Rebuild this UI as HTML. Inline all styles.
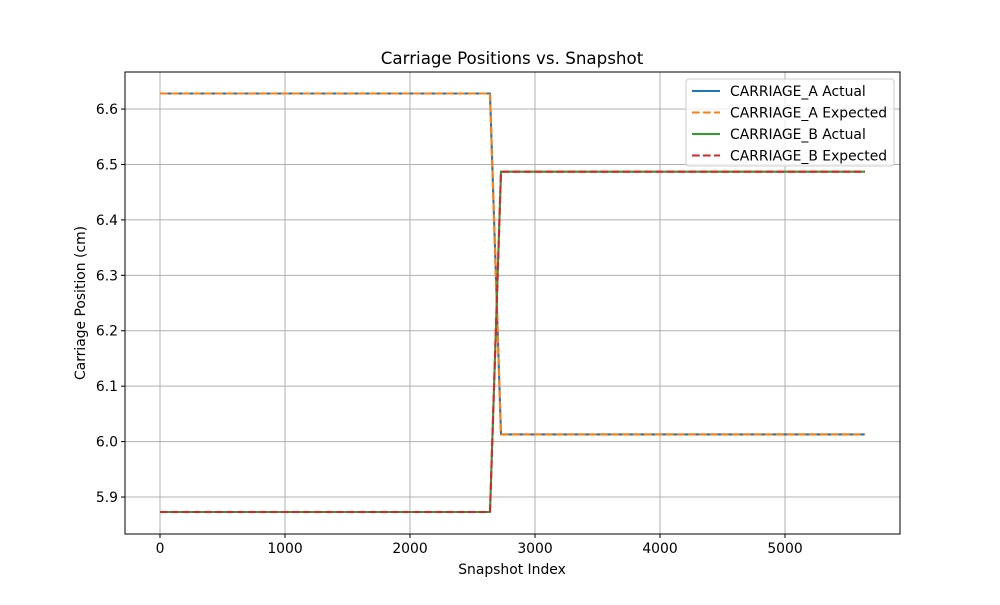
<!DOCTYPE html>
<html><head><meta charset="utf-8"><style>
body{margin:0;background:#fff;}
svg{font-family:"DejaVu Sans","Liberation Sans",sans-serif;}
</style></head><body>
<svg id="chart" width="1000" height="600">
<rect width="1000" height="600" fill="#fff"/>
<g id="grid"></g>
<g id="series"></g>
<rect x="125" y="72" width="775" height="462" fill="none" stroke="#000" stroke-width="1"/>
<g id="ticks" font-size="13.9"></g>
<text x="512" y="64" text-anchor="middle" font-size="16.7">Carriage Positions vs. Snapshot</text>
<text x="512" y="574" text-anchor="middle" font-size="13.9">Snapshot Index</text>
<text transform="translate(85,303) rotate(-90)" text-anchor="middle" font-size="13.9">Carriage Position (cm)</text>
<g id="legend" font-size="13.9"></g>
</svg>
<script>
const xIdx = [0, 2640, 2728, 5640];
const seriesA = [6.628, 6.628, 6.013, 6.013];
const seriesB = [5.873, 5.873, 6.487, 6.487];
const xTicks = [0, 1000, 2000, 3000, 4000, 5000];
const yTicks = [5.9, 6.0, 6.1, 6.2, 6.3, 6.4, 6.5, 6.6];
const seriesNames = ["CARRIAGE_A Actual", "CARRIAGE_A Expected", "CARRIAGE_B Actual", "CARRIAGE_B Expected"];
const NS = "http://www.w3.org/2000/svg";
const L=125,R=900,T=72,B=534, x0=-280,x1=5920,y0=5.8333,y1=6.6668;
const sx=v=>L+(v-x0)/(x1-x0)*(R-L);
const sy=v=>B-(v-y0)/(y1-y0)*(B-T);
function mk(tag,attrs,parent){const e=document.createElementNS(NS,tag);for(const k in attrs)e.setAttribute(k,attrs[k]);parent.appendChild(e);return e;}
const grid=document.getElementById('grid'),ticks=document.getElementById('ticks'),ser=document.getElementById('series'),leg=document.getElementById('legend');
xTicks.forEach(v=>{const x=sx(v);
 const g=mk('line',{x1:x,x2:x,y1:T,y2:B,stroke:'#b0b0b0','stroke-width':1},grid);
 
 
 mk('line',{x1:x,x2:x,y1:B,y2:B+4,stroke:'#000'},ticks);
 const t=mk('text',{x:x,y:B+19,'text-anchor':'middle'},ticks);t.textContent=v;
 
 
});
yTicks.forEach(v=>{const y=sy(v);
 const g=mk('line',{x1:L,x2:R,y1:y,y2:y,stroke:'#b0b0b0','stroke-width':1},grid);
 
 
 mk('line',{x1:L-4,x2:L,y1:y,y2:y,stroke:'#000'},ticks);
 const t=mk('text',{x:L-7,y:y+5,'text-anchor':'end'},ticks);t.textContent=v.toFixed(1);
 
 
});
const defs=[[seriesA,'#1f77b4',null],[seriesA,'#ff7f0e','7.7,3.3'],[seriesB,'#2ca02c',null],[seriesB,'#d62728','7.7,3.3']];
defs.forEach((d,i)=>{
 const pts=xIdx.map((x,j)=>sx(x)+','+sy(d[0][j])).join(' ');
 const a={points:pts,fill:'none',stroke:d[1],'stroke-width':2.1};
 if(d[2])a['stroke-dasharray']=d[2];
 const p=mk('polyline',a,ser);
 
 
});
const box=mk('rect',{x:686,y:79,width:208,height:87,rx:3,fill:'#fff','fill-opacity':0.8,stroke:'#ccc'},leg);


seriesNames.forEach((n,i)=>{const y=91+i*21.5;
 const a={x1:692,x2:720,y1:y,y2:y,stroke:defs[i][1],'stroke-width':2.1};
 if(defs[i][2])a['stroke-dasharray']=defs[i][2];
 mk('line',a,leg);
 const t=mk('text',{x:730,y:y+5},leg);t.textContent=n;
 
 
});
</script>
</body></html>
